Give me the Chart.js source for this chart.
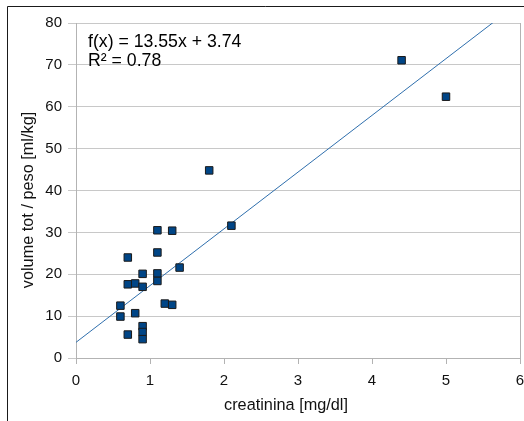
<!DOCTYPE html>
<html>
<head>
<meta charset="utf-8">
<script src="https://cdn.jsdelivr.net/npm/chart.js@4/dist/chart.umd.min.js"></script>
<style>
  html, body { margin: 0; padding: 0; background: #fff; }
  #wrap { position: relative; width: 524px; height: 421px; }
</style>
</head>
<body>
<div id="wrap"><canvas id="c" width="524" height="421"></canvas></div>
<script>
// creatinina [mg/dl] vs volume tot / peso [ml/kg]
const creatinina = [1.1, 1.3, 2.1, 1.1, 0.7, 1.4, 0.9, 1.1, 1.1, 0.7, 0.8, 0.9, 1.2, 1.3, 0.6, 0.6, 0.8, 0.9, 0.9, 0.9, 0.7, 1.8, 4.4, 5.0];
const volumePeso = [30.5, 30.4, 31.6, 25.2, 24.0, 21.6, 20.1, 20.2, 18.4, 17.6, 17.8, 17.0, 13.0, 12.7, 12.5, 9.9, 10.7, 7.6, 6.2, 4.5, 5.6, 44.8, 71.1, 62.4];

// linear regression as stated in the label
const slope = 13.55;
const intercept = 3.74;
const rSquared = 0.78;

const xTicks = [0, 1, 2, 3, 4, 5, 6];
const yTicks = [0, 10, 20, 30, 40, 50, 60, 70, 80];

const points = creatinina.map((x, i) => ({ x: x, y: volumePeso[i] }));
const xMax = xTicks[xTicks.length - 1];
const trend = [
  { x: 0, y: intercept },
  { x: xMax, y: slope * xMax + intercept }
];

const FONT = '"Liberation Sans", Arial, sans-serif';
const PLOT_RIGHT = 520;

const decorations = {
  id: 'decorations',
  afterLayout(chart) {
    // let the plot run right up to the frame edge; the last tick label may overhang
    const a = chart.chartArea;
    const xs = chart.scales.x;
    a.right = PLOT_RIGHT;
    a.width = a.right - a.left;
    xs.right = PLOT_RIGHT;
    xs.width = xs.right - xs.left;
    xs.configure();
  },
  afterDraw(chart) {
    const ctx = chart.ctx;
    const a = chart.chartArea;
    ctx.save();
    // outer frame (top and left edges)
    ctx.strokeStyle = '#1a1a1a';
    ctx.lineWidth = 1;
    ctx.beginPath();
    ctx.moveTo(7.5, 421);
    ctx.lineTo(7.5, 6.5);
    ctx.lineTo(524, 6.5);
    ctx.stroke();
    // right edge of the plot area
    ctx.strokeStyle = '#b3b3b3';
    ctx.lineWidth = 1;
    ctx.beginPath();
    ctx.moveTo(Math.round(a.right) + 0.5, a.top);
    ctx.lineTo(Math.round(a.right) + 0.5, a.bottom);
    ctx.stroke();
    // regression label
    ctx.fillStyle = '#000';
    ctx.font = '17.7px ' + FONT;
    ctx.textAlign = 'left';
    ctx.textBaseline = 'alphabetic';
    ctx.fillText('f(x) = ' + slope.toFixed(2) + 'x + ' + intercept.toFixed(2), 88, 47);
    ctx.fillText('R² = ' + rSquared.toFixed(2), 88, 66);
    // axis titles
    ctx.font = '16.3px ' + FONT;
    ctx.fillStyle = '#111';
    ctx.textAlign = 'center';
    ctx.textBaseline = 'middle';
    ctx.fillText('creatinina [mg/dl]', 286, 406);
    ctx.translate(29, 200);
    ctx.rotate(-Math.PI / 2);
    ctx.fillText('volume tot / peso [ml/kg]', 0, 0);
    ctx.restore();
  }
};

new Chart(document.getElementById('c'), {
  type: 'scatter',
  data: {
    datasets: [
      {
        label: 'volume tot / peso',
        data: points,
        pointStyle: 'rect',
        pointRadius: 5.3,
        pointHoverRadius: 5.3,
        backgroundColor: '#004586',
        borderColor: '#1a1a1a',
        borderWidth: 1,
        order: 1
      },
      {
        label: 'f(x)',
        type: 'line',
        data: trend,
        borderColor: '#2f6fad',
        borderWidth: 1,
        pointRadius: 0,
        fill: false,
        order: 2
      }
    ]
  },
  options: {
    responsive: false,
    animation: false,
    devicePixelRatio: 1,
    layout: { padding: { left: 0, right: 0, top: 23, bottom: 0 } },
    plugins: { legend: { display: false }, tooltip: { enabled: false }, title: { display: false } },
    scales: {
      x: {
        type: 'linear',
        min: 0,
        max: 6,
        afterFit(s) { s.height = 63; },
        afterBuildTicks(s) { s.ticks = xTicks.map(v => ({ value: v })); },
        grid: { drawOnChartArea: false, drawTicks: true, tickLength: 6, color: '#b3b3b3', lineWidth: 1 },
        border: { display: true, color: '#b3b3b3', width: 1 },
        ticks: { color: '#111', font: { family: FONT, size: 15 }, padding: 8, maxRotation: 0 }
      },
      y: {
        type: 'linear',
        min: 0,
        max: 80,
        afterFit(s) { s.width = 76; },
        afterBuildTicks(s) { s.ticks = yTicks.map(v => ({ value: v })); },
        grid: { drawOnChartArea: true, drawTicks: true, tickLength: 8, color: '#c8c8c8', lineWidth: 1 },
        border: { display: true, color: '#b3b3b3', width: 1 },
        ticks: { color: '#111', font: { family: FONT, size: 15 }, padding: 6 }
      }
    }
  },
  plugins: [decorations]
});
</script>
</body>
</html>
